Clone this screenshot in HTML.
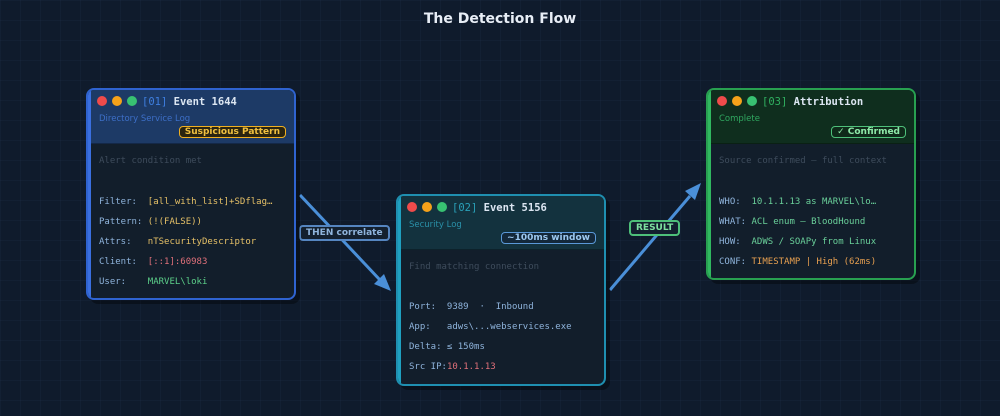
<!DOCTYPE html>
<html><head><meta charset="utf-8"><style>
*{margin:0;padding:0;box-sizing:border-box}
body{width:1000px;height:416px;background:#0f1b2c;position:relative;overflow:hidden;font-family:"DejaVu Sans Mono","Liberation Mono",monospace;
background-image:linear-gradient(rgba(60,90,130,.08) 1px,transparent 1px),linear-gradient(90deg,rgba(60,90,130,.08) 1px,transparent 1px);background-size:20px 20px}
.title{position:absolute;top:11px;left:0;width:1000px;text-align:center;color:#e8eef6;font:bold 14px "DejaVu Sans",sans-serif}
.card{position:absolute;width:210px;border:2px solid;border-radius:8px;overflow:hidden;background:#121e2b;box-shadow:4px 4px 0 rgba(0,0,0,.35)}
.card .bar{position:absolute;left:-2px;top:-2px;bottom:-2px;width:5px;z-index:5}
.hd{height:54px;position:relative;border-bottom:1px solid rgba(0,0,0,.3)}
.dots{position:absolute;left:9px;top:6px;display:flex;gap:5px}
.dots i{display:block;width:10px;height:10px;border-radius:50%}
.ht{position:absolute;left:54px;top:6px;font-size:10.5px;font-weight:bold;color:#dce6f2;white-space:pre}
.ht span{font-weight:normal}
.sub{position:absolute;left:11px;top:24px;font:8.5px "DejaVu Sans",sans-serif}
.badge{position:absolute;right:8px;top:36px;font:bold 9px "DejaVu Sans",sans-serif;padding:0 5px;border:1.5px solid;border-radius:4px}
.bd{position:relative;font-size:9px}
.bd div{position:absolute;left:11px;white-space:pre}
.g{color:#3e4c5c}
.k{color:#8fb4dc}
.lbl{position:absolute;font:bold 9px "DejaVu Sans",sans-serif;padding:1px 5px;border:2px solid;border-radius:4px;background:#13202f}
</style></head><body>
<div class="title">The Detection Flow</div>

<svg width="1000" height="416" style="position:absolute;left:0;top:0">
<line x1="300" y1="195" x2="380" y2="280" stroke="#4a8fd8" stroke-width="3"/>
<polygon points="391,291 374,284 384,274" fill="#4a8fd8"/>
<line x1="610" y1="290" x2="690" y2="196" stroke="#4a8fd8" stroke-width="3"/>
<polygon points="701,183 695,200 685,191" fill="#4a8fd8"/>
</svg>

<div class="lbl" style="left:299px;top:225px;color:#8fb4dc;border-color:#5585c0">THEN correlate</div>
<div class="lbl" style="left:629px;top:220px;color:#7ee0a0;border-color:#4ec07a">RESULT</div>

<!-- card 1 -->
<div class="card" style="left:86px;top:88px;height:212px;border-color:#2f63d0">
<div class="bar" style="background:#3a6fe0"></div>
<div class="hd" style="background:#1d3a66">
<div class="dots"><i style="background:#ef4b4b"></i><i style="background:#f5a21a"></i><i style="background:#38c172"></i></div>
<div class="ht"><span style="color:#3f7fe0">[01]</span> Event 1644</div>
<div class="sub" style="color:#3d6fc8">Directory Service Log</div>
<div class="badge" style="color:#f0c040;border-color:#f0b020;background:#2a2410">Suspicious Pattern</div>
</div>
<div class="bd">
<div class="g" style="top:12px">Alert condition met</div>
<div style="top:53px"><span class="k">Filter:  </span><span style="color:#e5c067">[all_with_list]+SDflag…</span></div>
<div style="top:73px"><span class="k">Pattern: </span><span style="color:#e5c067">(!(FALSE))</span></div>
<div style="top:93px"><span class="k">Attrs:   </span><span style="color:#e5c067">nTSecurityDescriptor</span></div>
<div style="top:113px"><span class="k">Client:  </span><span style="color:#e0707a">[::1]:60983</span></div>
<div style="top:133px"><span class="k">User:    </span><span style="color:#5cd08a">MARVEL\loki</span></div>
</div></div>

<!-- card 2 -->
<div class="card" style="left:396px;top:194px;height:192px;border-color:#1f8fb0">
<div class="bar" style="background:#1fa0c0"></div>
<div class="hd" style="background:#13323e">
<div class="dots"><i style="background:#ef4b4b"></i><i style="background:#f5a21a"></i><i style="background:#38c172"></i></div>
<div class="ht"><span style="color:#2aa0b8">[02]</span> Event 5156</div>
<div class="sub" style="color:#2a90a8">Security Log</div>
<div class="badge" style="color:#9cc8f0;border-color:#5a98d8;background:#13283a">~100ms window</div>
</div>
<div class="bd">
<div class="g" style="top:12px">Find matching connection</div>
<div style="top:52px"><span class="k">Port:  9389  ·  Inbound</span></div>
<div style="top:72px"><span class="k">App:   adws\...webservices.exe</span></div>
<div style="top:92px"><span class="k">Delta: ≤ 150ms</span></div>
<div style="top:112px"><span class="k">Src IP:</span><span style="color:#e0707a">10.1.1.13</span></div>
</div></div>

<!-- card 3 -->
<div class="card" style="left:706px;top:88px;height:192px;border-color:#28a050">
<div class="bar" style="background:#30b860"></div>
<div class="hd" style="background:#0f2e1e">
<div class="dots"><i style="background:#ef4b4b"></i><i style="background:#f5a21a"></i><i style="background:#38c172"></i></div>
<div class="ht"><span style="color:#30b060">[03]</span> Attribution</div>
<div class="sub" style="color:#30a860">Complete</div>
<div class="badge" style="color:#8ee8a8;border-color:#4ec07a;background:#0f2a1a">✓ Confirmed</div>
</div>
<div class="bd">
<div class="g" style="top:12px">Source confirmed — full context</div>
<div style="top:53px"><span class="k">WHO:  </span><span style="color:#6ad09a">10.1.1.13 as MARVEL\lo…</span></div>
<div style="top:73px"><span class="k">WHAT: </span><span style="color:#6ad09a">ACL enum — BloodHound</span></div>
<div style="top:93px"><span class="k">HOW:  </span><span style="color:#6ad09a">ADWS / SOAPy from Linux</span></div>
<div style="top:113px"><span class="k">CONF: </span><span style="color:#e8a050">TIMESTAMP | High (62ms)</span></div>
</div></div>
</body></html>
